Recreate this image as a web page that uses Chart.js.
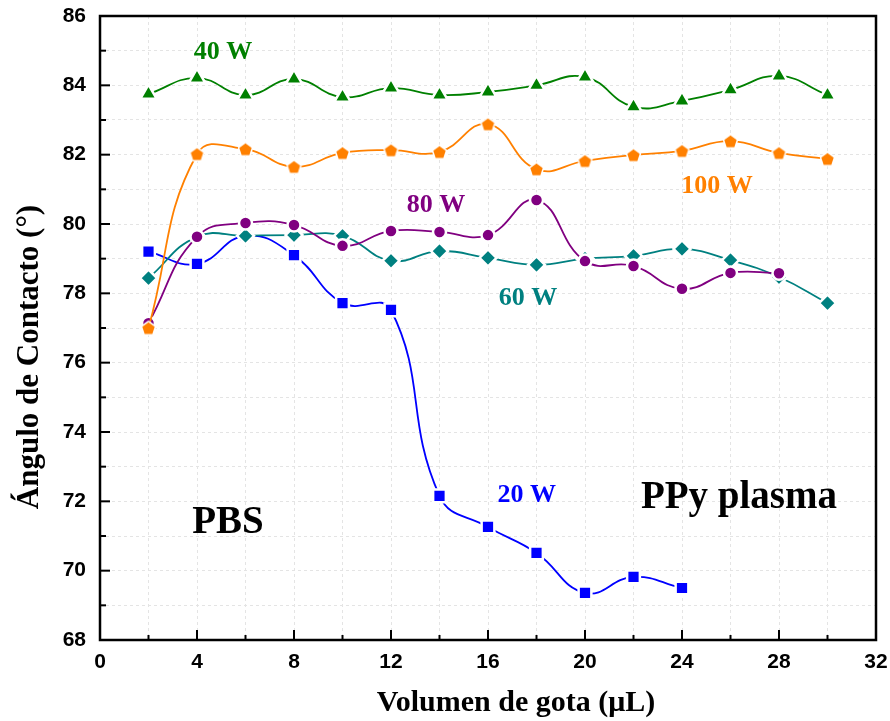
<!DOCTYPE html>
<html>
<head>
<meta charset="utf-8">
<script src="https://cdn.jsdelivr.net/npm/chart.js@4"></script>
<style>
  html, body { margin: 0; padding: 0; background: #fff; }
  #wrap { width: 890px; height: 721px; position: relative; }
</style>
</head>
<body>
<div id="wrap"><canvas id="angleChart"></canvas></div>
<script>
// drop volume (uL) for each measurement
const volumes = [2, 4, 6, 8, 10, 12, 14, 16, 18, 20, 22, 24, 26, 28, 30];

// contact angle (deg) per plasma power
const w100 = [77.0, 82.02, 82.16, 81.65, 82.05, 82.13, 82.08, 82.88, 81.58, 81.82, 81.99, 82.11, 82.39, 82.05, 81.88];
const w80 = [77.14, 79.63, 80.03, 79.97, 79.37, 79.8, 79.77, 79.68, 80.69, 78.93, 78.79, 78.13, 78.59, 78.58];
const w60 = [78.44, 79.63, 79.66, 79.68, 79.66, 78.94, 79.22, 79.02, 78.82, 79.0, 79.08, 79.28, 78.96, 78.47, 77.72];
const w20 = [79.2, 78.85, 79.66, 79.1, 77.72, 77.52, 72.16, 71.26, 70.51, 69.36, 69.82, 69.5];
const w40 = [83.75, 84.21, 83.72, 84.18, 83.66, 83.92, 83.72, 83.81, 84.0, 84.24, 83.38, 83.55, 83.87, 84.27, 83.72];

// axis ranges / ticks
const xMin = 0, xMax = 32, xStep = 2;
const yMin = 68, yMax = 86, yStep = 1;

const serif = '"Times New Roman", "Liberation Serif", serif';
const sans = 'Arial, "Liberation Sans", sans-serif';

// text placed inside the plot (data units)
const notes = [
    { text: '40 W', x: 5.07, y: 84.76, color: '#008000', size: 26 },
    { text: '100 W', x: 25.44, y: 80.89, color: '#ff8000', size: 26 },
    { text: '80 W', x: 13.86, y: 80.35, color: '#800080', size: 26 },
    { text: '60 W', x: 17.65, y: 77.66, color: '#008080', size: 26 },
    { text: '20 W', x: 17.6, y: 71.98, color: '#0000ff', size: 26 },
    { text: 'PBS', x: 5.28, y: 71.09, color: '#000', size: 39 },
    { text: 'PPy plasma', x: 26.35, y: 71.81, color: '#000', size: 39 }
];

function toPoints(values) {
    return values.map((v, i) => ({ x: volumes[i], y: v }));
}

// pentagon marker (with white halo) for the 100 W series
function pentagon(size, color) {
    const c = document.createElement('canvas');
    c.width = size; c.height = size;
    const ctx = c.getContext('2d');
    const m = size / 2;
    const r = m - 2;
    ctx.beginPath();
    for (let k = 0; k < 5; k++) {
        const a = -Math.PI / 2 + k * 2 * Math.PI / 5;
        const px = m + Math.cos(a) * r;
        const py = m + 0.7 + Math.sin(a) * r;
        if (k === 0) ctx.moveTo(px, py); else ctx.lineTo(px, py);
    }
    ctx.closePath();
    ctx.lineJoin = 'round';
    ctx.lineWidth = 3;
    ctx.strokeStyle = '#fff';
    ctx.stroke();
    ctx.fillStyle = color;
    ctx.fill();
    return c;
}

function series(label, values, color, style, radius) {
    return {
        label: label,
        data: toPoints(values),
        borderColor: color,
        backgroundColor: color,
        borderWidth: 1.8,
        tension: 0.45,
        pointStyle: style,
        pointRadius: radius,
        pointBorderWidth: 2.5,
        pointBorderColor: '#fff',
        pointBackgroundColor: color,
        fill: false
    };
}

const axesDecor = {
    id: 'axesDecor',
    afterDatasetsDraw(chart) {
        const { ctx, chartArea: a, scales } = chart;
        ctx.save();
        ctx.strokeStyle = '#000';
        ctx.lineWidth = 2;
        // inward tick marks, left axis
        scales.y.ticks.forEach(t => {
            if (t.value === yMin || t.value === yMax) return;
            const py = scales.y.getPixelForValue(t.value);
            const len = t.value % 2 === 0 ? 10 : 6;
            ctx.beginPath();
            ctx.moveTo(a.left, py);
            ctx.lineTo(a.left + len, py);
            ctx.stroke();
        });
        // inward tick marks, bottom axis
        scales.x.ticks.forEach(t => {
            if (t.value === xMin || t.value === xMax) return;
            const px = scales.x.getPixelForValue(t.value);
            const len = t.value % 4 === 0 ? 10 : 5;
            ctx.beginPath();
            ctx.moveTo(px, a.bottom);
            ctx.lineTo(px, a.bottom - len);
            ctx.stroke();
        });
        ctx.lineWidth = 2.5;
        ctx.strokeRect(a.left, a.top, a.right - a.left, a.bottom - a.top);
        ctx.restore();
    },
    afterDraw(chart) {
        const { ctx, scales } = chart;
        ctx.save();
        ctx.textAlign = 'center';
        ctx.textBaseline = 'alphabetic';
        notes.forEach(n => {
            ctx.fillStyle = n.color;
            ctx.font = 'bold ' + n.size + 'px ' + serif;
            ctx.fillText(n.text, scales.x.getPixelForValue(n.x), scales.y.getPixelForValue(n.y));
        });
        // axis titles
        ctx.fillStyle = '#000';
        ctx.font = 'bold 30px ' + serif;
        ctx.fillText('Volumen de gota (\u03bcL)', 516, 711);
        ctx.translate(38, 357);
        ctx.rotate(-Math.PI / 2);
        ctx.font = 'bold 31px ' + serif;
        ctx.fillText('\u00c1ngulo de Contacto (\u00b0)', 0, 0);
        ctx.restore();
    }
};

function noEdgePadding(scale) {
    scale.paddingTop = 0;
    scale.paddingBottom = 0;
    scale.paddingLeft = 0;
    scale.paddingRight = 0;
}

new Chart(document.getElementById('angleChart'), {
    type: 'line',
    data: {
        datasets: [
            series('100 W', w100, '#ff8000', pentagon(17, '#ff8000'), 7),
            series('80 W', w80, '#800080', 'circle', 6.5),
            series('60 W', w60, '#008080', 'rectRot', 8.5),
            series('20 W', w20, '#0000ff', 'rect', 9),
            series('40 W', w40, '#008000', 'triangle', 9.5)
        ]
    },
    options: {
        responsive: true,
        maintainAspectRatio: false,
        animation: false,
        layout: { padding: { left: 0, top: 16, right: 14, bottom: 0 } },
        plugins: {
            legend: { display: false },
            tooltip: { enabled: false },
            title: { display: false }
        },
        scales: {
            x: {
                type: 'linear',
                min: xMin,
                max: xMax,
                afterFit(scale) { scale.height = 81; noEdgePadding(scale); },
                ticks: {
                    stepSize: xStep,
                    autoSkip: false,
                    maxRotation: 0,
                    padding: 10,
                    color: '#000',
                    font: { family: sans, size: 21, weight: 'bold' },
                    callback: v => (v % 4 === 0 ? v : '')
                },
                grid: { color: '#e4e4e4', lineWidth: 1, drawTicks: false },
                border: { display: false, dash: [3, 3] }
            },
            y: {
                min: yMin,
                max: yMax,
                afterFit(scale) { scale.width = 100; noEdgePadding(scale); },
                ticks: {
                    stepSize: yStep,
                    autoSkip: false,
                    padding: 14,
                    color: '#000',
                    font: { family: sans, size: 21, weight: 'bold' },
                    callback: v => (v % 2 === 0 ? v : '')
                },
                grid: { color: '#e4e4e4', lineWidth: 1, drawTicks: false },
                border: { display: false, dash: [3, 3] }
            }
        }
    },
    plugins: [axesDecor]
});
</script>
</body>
</html>
